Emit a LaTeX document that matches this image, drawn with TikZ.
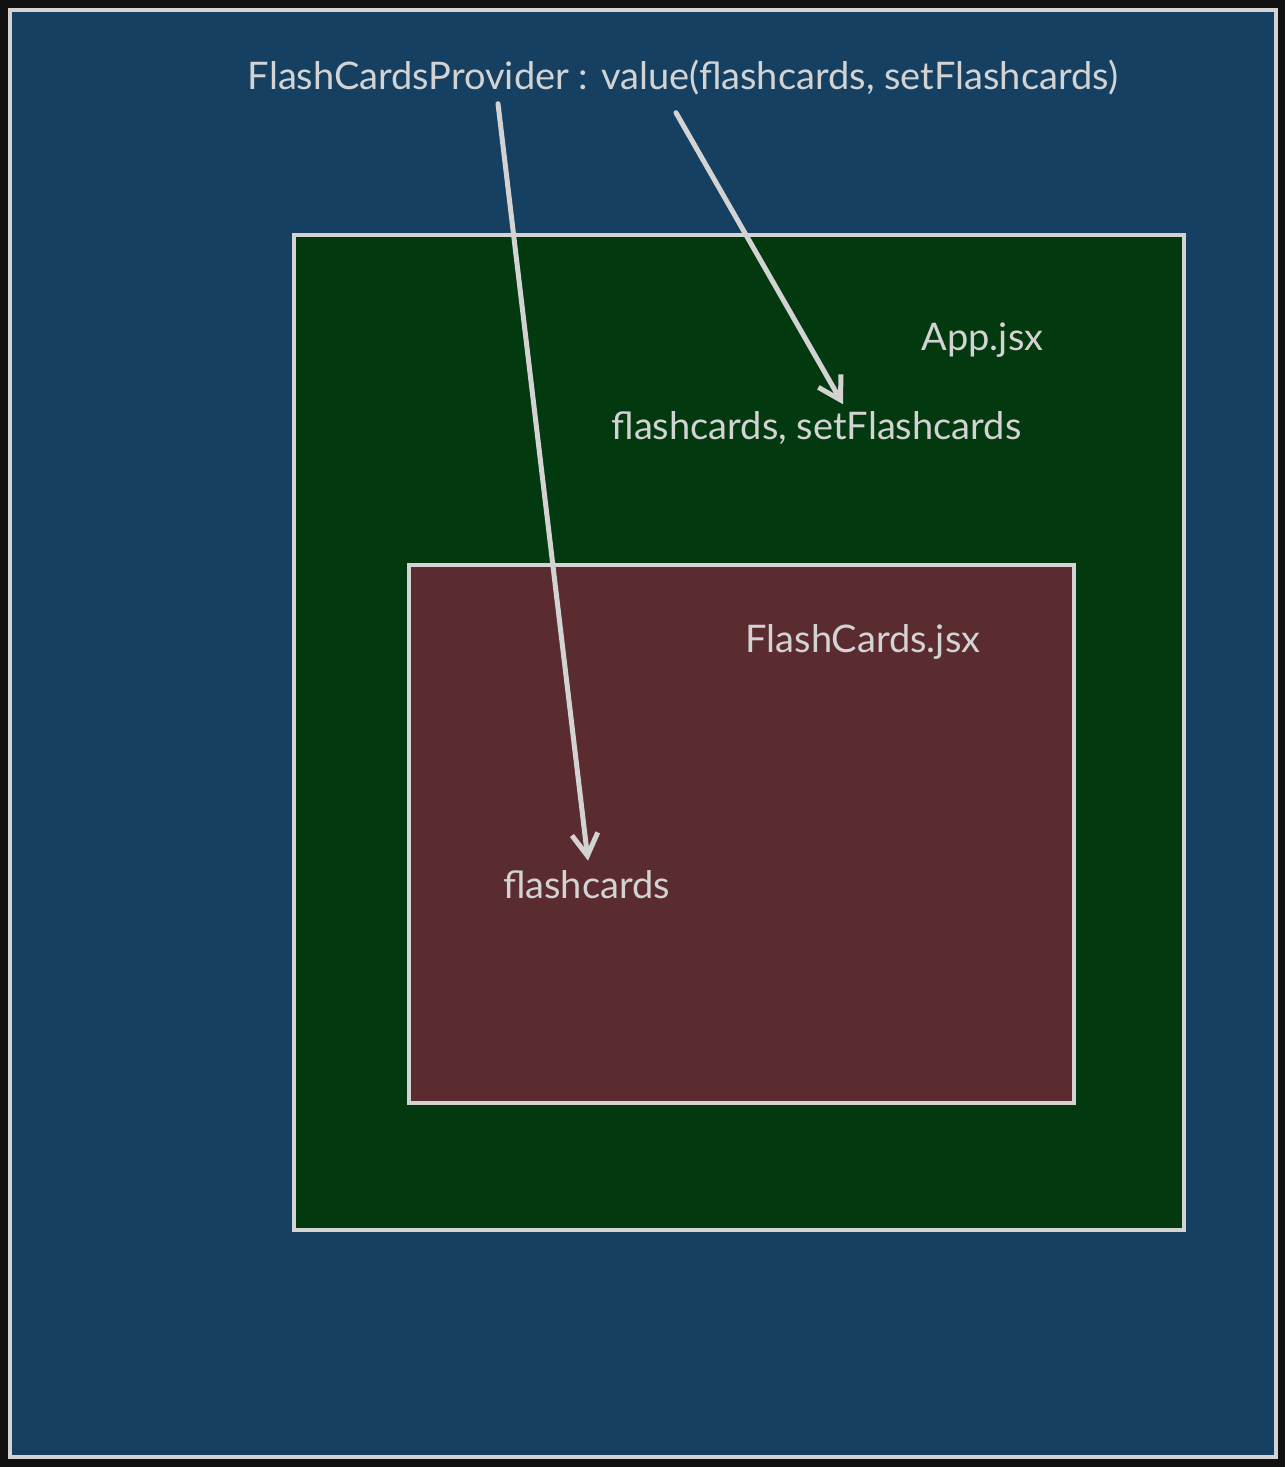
\documentclass[tikz,border=0pt]{standalone}
\usepackage{fontspec}
\setmainfont{Lato}
\usepackage{tikz}
\usetikzlibrary{arrows.meta}
\definecolor{pagedark}{RGB}{17, 17, 17}
\definecolor{providerblue}{RGB}{21, 64, 97}
\definecolor{appgreen}{RGB}{3, 57, 15}
\definecolor{cardsmaroon}{RGB}{91, 44, 47}
\definecolor{chalk}{RGB}{211, 211, 211}

\begin{document}
\begin{tikzpicture}[x=1pt,y=-1pt,
    box/.style={draw=chalk,line width=4.5pt,inner sep=0pt},
    label/.style={text=chalk,inner sep=0pt,font=\fontsize{38}{45}\selectfont},
    arrow/.style={draw=chalk,line width=5pt,line cap=round,-{Straight Barb[length=22pt,width=26pt,line width=5pt]}}]
            \useasboundingbox[fill=pagedark] (0,0) rectangle (1285,1467);
            \node[box,fill=providerblue,minimum width=1266pt,minimum height=1447pt] (provider) at (643,733.5) {};
            \node[box,fill=appgreen,minimum width=890pt,minimum height=995pt] (app) at (739,732.5) {};
            \node[box,fill=cardsmaroon,minimum width=665pt,minimum height=538pt] (cards) at (741.5,834) {};
            
            \node[label] (title) at (683,78) {FlashCardsProvider : value(flashcards, setFlashcards)};
            \node[label] (appname) at (982.5,340) {App.jsx};
            \node[label] (appvalue) at (816.5,428) {flashcards, setFlashcards};
            \node[label] (cardsname) at (863,642) {FlashCards.jsx};
            \node[label] (cardsvalue) at (586.5,885) {flashcards};
            
            \draw[arrow] ([xshift=-185pt,yshift=-8pt]title.south) -- ([xshift=1.5pt,yshift=10pt]cardsvalue.north);
            \draw[arrow] ([xshift=-7pt,yshift=-17pt]title.south) -- ([xshift=26.5pt,yshift=7pt]appvalue.north);
        \end{tikzpicture}
\end{document}
